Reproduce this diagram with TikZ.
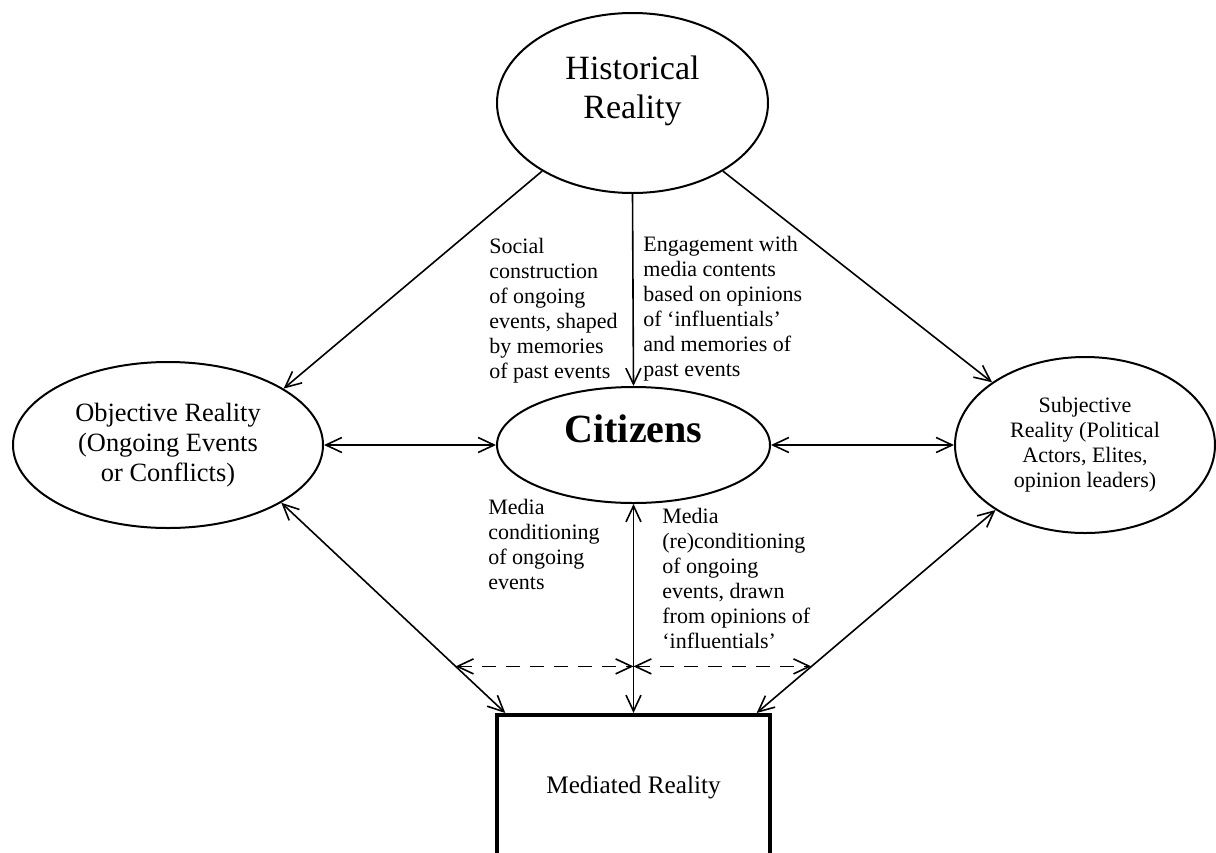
\documentclass[tikz,border=0pt]{standalone}
\usepackage{fontspec}
\setmainfont{Liberation Serif}
\usetikzlibrary{shapes.geometric, arrows.meta}

\begin{document}
\begin{tikzpicture}[
    x=0.5pt, y=-0.5pt,
    >={Straight Barb[length=8pt,width=7.5pt]},
    % Styles
    realm/.style={
        ellipse,
        draw,
        line width=1pt,
        inner sep=0pt,
        align=center
    },
    mediabox/.style={
        rectangle,
        draw,
        line width=2pt,
        minimum width=136.5pt,
        minimum height=72pt,
        font=\fontsize{12.6}{15}\selectfont
    },
    link/.style={
        line width=0.8pt
    },
    dashlink/.style={
        line width=0.8pt,
        dash pattern=on 7pt off 5pt
    },
    note/.style={
        anchor=north west,
        inner sep=0pt,
        align=left,
        font=\fontsize{11}{12.5}\selectfont
    }
]

\useasboundingbox (0,0) rectangle (1216,852);
\clip (0,0) rectangle (1216,852);

% --- Realities ---
\node (historical) [realm, minimum width=135.5pt, minimum height=90pt,
    label={[font=\fontsize{17}{19.5}\selectfont, align=center, yshift=6pt]center:Historical\\Reality}] at (632.5,103) {};

\node (objective) [realm, minimum width=155pt, minimum height=83pt,
    font=\fontsize{13.2}{15}\selectfont] at (168,445) {Objective Reality\\(Ongoing Events\\or Conflicts)};

\node (citizens) [realm, minimum width=136.5pt, minimum height=58pt,
    label={[font=\bfseries\fontsize{20}{24}\selectfont, yshift=8pt]center:Citizens}] at (633.5,445) {};

\node (subjective) [realm, minimum width=130pt, minimum height=88pt,
    font=\fontsize{11}{12.5}\selectfont] at (1085,445) {Subjective\\Reality (Political\\Actors, Elites,\\opinion leaders)};

\node (mediated) [mediabox] at (633.5,787) {Mediated Reality};

% --- Notes ---
\node (socialnote) [note] at (489,238) {Social\\construction\\of ongoing\\events, shaped\\by memories\\of past events};
\node (engagenote) [note] at (643,236) {Engagement with\\media contents\\based on opinions\\of ‘influentials’\\and memories of\\past events};
\node (condnote) [note] at (488,499) {Media\\conditioning\\of ongoing\\events};
\node (recondnote) [note] at (662,508) {Media\\(re)conditioning\\of ongoing\\events, drawn\\from opinions of\\‘influentials’};

% --- Connections ---
% From historical reality
\draw [link, ->] (historical.217) -- (objective.26);
\draw [link, ->] (historical.south) -- (citizens.north);
\draw [link, ->] (historical.-37) -- (subjective.146);

% Middle row
\draw [link, <->] (objective.east) -- (citizens.west);
\draw [link, <->] (citizens.east) -- (subjective.west);

% Down to mediated reality
\draw [link, <->] (objective.-27) -- coordinate[pos=0.778] (objdash) (mediated.150);
\draw [link, <->] (citizens.south) -- coordinate[pos=0.777] (dashmid) (mediated.north);
\draw [link, <->] (subjective.216) -- coordinate[pos=0.771] (subdash) (mediated.31);

% Dashed cross links
\draw [dashlink, <->] (objdash |- dashmid) -- (dashmid);
\draw [dashlink, <->] (dashmid) -- (subdash |- dashmid);

\end{tikzpicture}
\end{document}
